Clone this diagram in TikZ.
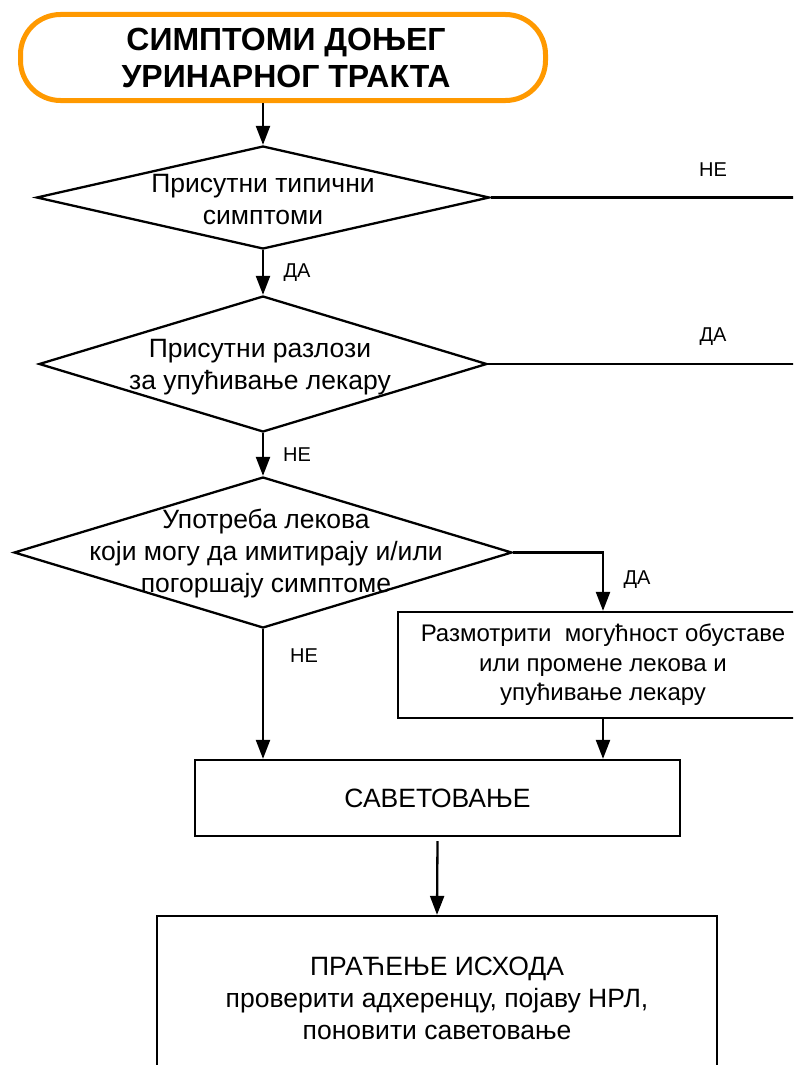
\documentclass[tikz,border=0pt]{standalone}
\usepackage{fontspec}
\setmainfont{Liberation Sans}
\usetikzlibrary{shapes.geometric,arrows.meta}
\definecolor{startorange}{HTML}{FF9900}
\tikzset{
  every picture/.style={x=1pt,y=-1pt},
  lw/.style={line width=2.3pt},
  startbox/.style={draw=startorange,line width=5pt,rounded corners=40pt,minimum width=525pt,minimum height=86pt,inner sep=0pt,align=center,font=\fontsize{32}{37}\selectfont\bfseries},
  decbox/.style={draw,lw,diamond,inner sep=0pt},
  dectext/.style={align=center,font=\fontsize{26.5}{32}\selectfont},
  procbox/.style={draw,lw,rectangle,inner sep=0pt,align=center,font=\fontsize{26.5}{32}\selectfont},
  lbl/.style={font=\fontsize{20}{24}\selectfont,inner sep=0pt},
  arr/.style={lw,-{Triangle[width=14pt,length=19pt]}},
  ln/.style={lw}
}
\begin{document}
\begin{tikzpicture}
\useasboundingbox (0,0) rectangle (793,1065);
\clip (0,0) rectangle (793,1065);
\fill[white] (0,0) rectangle (793,1065);

\node[startbox] (start) at (283,57.5) {\hspace*{6pt}СИМПТОМИ ДОЊЕГ\\\hspace*{6pt}УРИНАРНОГ ТРАКТА};

\node[decbox,minimum width=453pt,minimum height=103pt] (d1) at (263,197.5) {};
\node[dectext] (t1) at (263,200) {Присутни типични\\симптоми};

\node[decbox,minimum width=448pt,minimum height=136pt] (d2) at (263,364) {};
\node[dectext] (t2) at (260,367) {Присутни разлози\\за упућивање лекару};

\node[decbox,minimum width=498pt,minimum height=151pt] (d3) at (263,552.5) {};
\node[dectext] (t3) at (266,554) {Употреба лекова\\ који могу да имитирају и/или\\погоршају симптоме};

\node[procbox,minimum width=410pt,minimum height=106pt,font=\fontsize{24}{29.5}\selectfont] (b1) at (603,665) {Размотрити \ могућност обуставе\\или промене лекова и\\упућивање лекару};

\node[procbox,minimum width=485pt,minimum height=76pt] (sav) at (437.5,798) {САВЕТОВАЊЕ};

\node[procbox,minimum width=560pt,minimum height=164pt] (mon) at (437,998) {ПРАЋЕЊЕ ИСХОДА\\проверити адхеренцу, појаву НРЛ,\\поновити саветовање};

\coordinate (e1) at (800,197.5);
\coordinate (e2) at (800,364);
\coordinate (c3) at (603,552.5);

\draw[arr] (d1.north |- start.south) -- (d1.north);
\draw[ln] (d1.east) -- (e1);
\draw[arr] (d1.south) -- (d2.north);
\draw[ln] (d2.east) -- (e2);
\draw[arr] (d2.south) -- (d3.north);
\draw[arr] (d3.east) -- (c3) -- (b1.north);
\draw[arr] (d3.south) -- (d3.south |- sav.north);
\draw[arr] (b1.south) -- (b1.south |- sav.north);
\draw[arr] ([yshift=-4pt]sav.south) -- (mon.north);

\node[lbl] (l1) at (713,170) {НЕ};
\node[lbl] (l2) at (297,273) {ДА};
\node[lbl] (l3) at (713,337) {ДА};
\node[lbl] (l4) at (297,455) {НЕ};
\node[lbl] (l5) at (637,580) {ДА};
\node[lbl] (l6) at (304,656) {НЕ};
\end{tikzpicture}
\end{document}
